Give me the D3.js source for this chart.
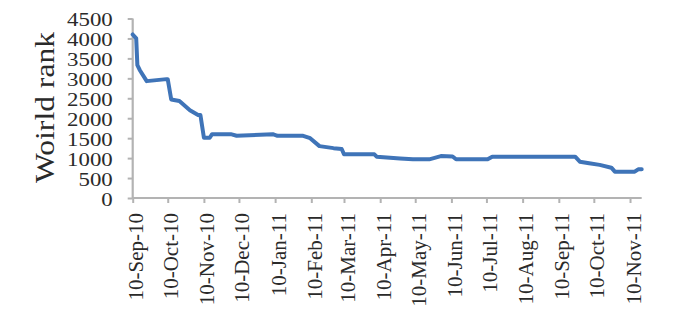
<!DOCTYPE html>
<html>
<head>
<meta charset="utf-8">
<script src="https://cdn.jsdelivr.net/npm/d3@7"></script>
<style>
html,body{margin:0;padding:0;background:#fff;}
svg{display:block;}
</style>
</head>
<body>
<svg id="chart" width="676" height="326"></svg>
<script>
const dates = ["2010-09-10","2010-09-13","2010-09-14","2010-09-16","2010-09-22","2010-10-09","2010-10-10","2010-10-13","2010-10-20","2010-10-29","2010-11-05","2010-11-07","2010-11-10","2010-11-15","2010-11-17","2010-12-03","2010-12-08","2011-01-08","2011-01-12","2011-02-03","2011-02-09","2011-02-17","2011-03-01","2011-03-08","2011-03-10","2011-04-05","2011-04-07","2011-04-27","2011-05-08","2011-05-22","2011-06-01","2011-06-11","2011-06-14","2011-07-11","2011-07-15","2011-09-24","2011-09-28","2011-10-06","2011-10-15","2011-10-25","2011-10-28","2011-11-14","2011-11-17","2011-11-20"];
const ranks = [4100,4000,3330,3210,2930,2980,2980,2470,2430,2200,2080,2080,1510,1510,1600,1600,1560,1600,1560,1560,1500,1300,1250,1230,1095,1095,1035,990,970,970,1050,1040,970,970,1035,1035,910,870,830,760,660,660,720,720];
const yTicks = [0,500,1000,1500,2000,2500,3000,3500,4000,4500];
const xTickDates = ["2010-09-10","2010-10-10","2010-11-10","2010-12-10","2011-01-10","2011-02-10","2011-03-10","2011-04-10","2011-05-10","2011-06-10","2011-07-10","2011-08-10","2011-09-10","2011-10-10","2011-11-10"];
const xTickLabels = ["10-Sep-10","10-Oct-10","10-Nov-10","10-Dec-10","10-Jan-11","10-Feb-11","10-Mar-11","10-Apr-11","10-May-11","10-Jun-11","10-Jul-11","10-Aug-11","10-Sep-11","10-Oct-11","10-Nov-11"];
const yTitle = "Woirld rank";

const parse = d3.utcParse("%Y-%m-%d");
const svg = d3.select("#chart");
const x = d3.scaleUtc().domain([parse("2010-09-10"), parse("2011-11-20")]).range([132.7, 641.7]);
const y = d3.scaleLinear().domain([0, 4500]).range([198, 18.5]);

const axisColor = "#b3b3b3";
const textColor = "#2a2a2a";
const font = "'Liberation Serif','Times New Roman',serif";

// y axis
const yAxis = d3.axisLeft(y).tickValues(yTicks).tickSize(5).tickFormat("");
const gy = svg.append("g").attr("transform", "translate(132.7,0)").call(yAxis);
gy.select(".domain").attr("stroke", axisColor).attr("stroke-width", 2.2).attr("d", `M0,${y(4500)}V${y(0)}`);
gy.selectAll(".tick line").attr("stroke", axisColor).attr("stroke-width", 2);

// x axis
const xAxis = d3.axisBottom(x).tickValues(xTickDates.map(parse)).tickSize(5).tickFormat("");
const gx = svg.append("g").attr("transform", "translate(0,198)").call(xAxis);
gx.select(".domain").attr("stroke", axisColor).attr("stroke-width", 2.2).attr("d", `M${x.range()[0]},0H${x.range()[1]}`);
gx.selectAll(".tick line").attr("stroke", axisColor).attr("stroke-width", 2);

// y tick labels
svg.append("g").selectAll("text").data(yTicks).join("text")
  .attr("x", 112.7)
  .attr("y", d => y(d) + 7.8)
  .attr("text-anchor", "end")
  .attr("font-family", font)
  .attr("font-size", 19)
  .attr("fill", textColor)
  .attr("textLength", d => String(d).length * 11.4)
  .attr("lengthAdjust", "spacingAndGlyphs")
  .text(d => d);

// x tick labels
svg.append("g").selectAll("text").data(xTickDates).join("text")
  .attr("transform", d => `translate(${x(parse(d)) + 10.5},213) rotate(-90)`)
  .attr("text-anchor", "end")
  .attr("font-family", font)
  .attr("font-size", 21)
  .attr("fill", textColor)
  .text((d, i) => xTickLabels[i]);

// y title
svg.append("text")
  .attr("transform", "translate(54,107.5) rotate(-90)")
  .attr("text-anchor", "middle")
  .attr("font-family", font)
  .attr("font-size", 27)
  .attr("fill", textColor)
  .attr("textLength", 151)
  .attr("lengthAdjust", "spacingAndGlyphs")
  .text(yTitle);

// line
const data = dates.map((d, i) => ({ date: parse(d), value: ranks[i] }));
const line = d3.line().x(d => x(d.date)).y(d => y(d.value));
svg.append("path").datum(data)
  .attr("d", line)
  .attr("fill", "none")
  .attr("stroke", "#3f74b8")
  .attr("stroke-width", 4)
  .attr("stroke-linejoin", "round")
  .attr("stroke-linecap", "round");
</script>
</body>
</html>
